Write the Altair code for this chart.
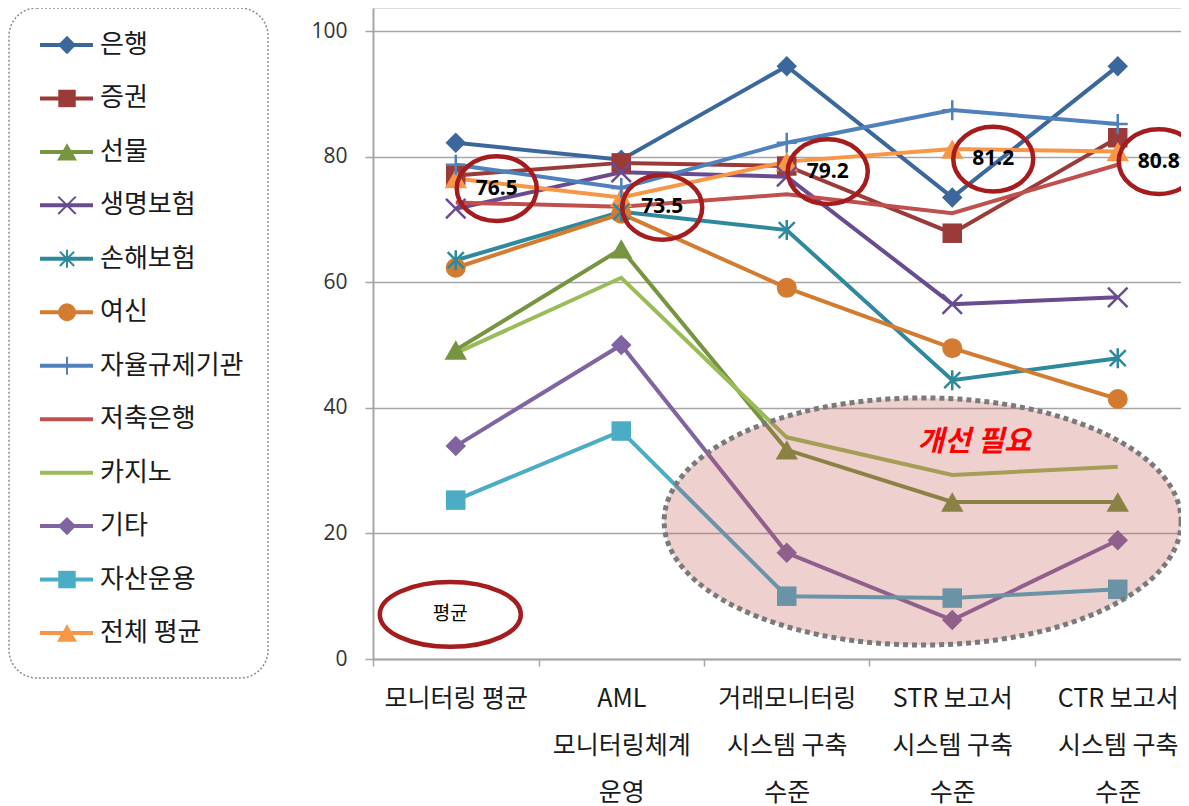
import altair as alt
import pandas as pd

# ---------------- data ----------------
categories = ["모니터링 평균", "AML\n모니터링체계\n운영", "거래모니터링\n시스템 구축\n수준",
              "STR 보고서\n시스템 구축\n수준", "CTR 보고서\n시스템 구축\n수준"]
series_names = ["은행", "증권", "선물", "생명보험", "손해보험", "여신", "자율규제기관",
                "저축은행", "카지노", "기타", "자산운용", "전체 평균"]

bank = [82.2, 79.5, 94.4, 73.5, 94.4]
securities = [77.0, 79.0, 78.5, 67.8, 83.0]
futures = [49.2, 65.3, 33.3, 25.0, 25.0]
life_ins = [71.7, 77.5, 76.8, 56.5, 57.6]
nonlife_ins = [63.5, 71.2, 68.3, 44.4, 47.9]
credit = [62.3, 70.9, 59.1, 49.5, 41.4]
self_reg = [78.7, 75.0, 82.2, 87.4, 85.2]
savings_bank = [72.7, 72.0, 74.0, 71.0, 78.7]
casino = [48.7, 60.7, 35.3, 29.3, 30.6]
others = [33.9, 50.0, 16.9, 6.2, 18.9]
asset_mgmt = [25.3, 36.3, 10.0, 9.7, 11.1]
overall_avg = [76.5, 73.5, 79.2, 81.2, 80.8]

values_by_series = [bank, securities, futures, life_ins, nonlife_ins, credit, self_reg,
                    savings_bank, casino, others, asset_mgmt, overall_avg]

colors = ["#3b679c", "#9b3b39", "#779541", "#684c8f", "#2f899d", "#d27b31", "#4f81bd",
          "#c0504d", "#9bbb59", "#8064a2", "#4bacc6", "#f79646"]
markers = ["diamond", "square", "triangle", "x", "asterisk", "circle", "plus",
           "none", "none", "diamond", "square", "triangle"]

rows = []
for si, (name, vals, mk) in enumerate(zip(series_names, values_by_series, markers)):
    for ci, v in enumerate(vals):
        rows.append({"series": name, "ci": ci, "value": v, "marker": mk, "order": si})
df = pd.DataFrame(rows)

legend_df = pd.DataFrame({"series": series_names, "marker": markers,
                          "li": list(range(len(series_names)))})


# ---------------- helpers ----------------
def ellipse_path(b):
    k = 0.5523
    return (f"M1,0C1,{b*k:.4f} {k},{b:.4f} 0,{b:.4f}C{-k},{b:.4f} -1,{b*k:.4f} -1,0"
            f"C-1,{-b*k:.4f} {-k},{-b:.4f} 0,{-b:.4f}C{k},{-b:.4f} 1,{-b*k:.4f} 1,0Z")


X_PATH = "M-1,-1L1,1M-1,1L1,-1"
AST_PATH = "M-0.8,-0.8L0.8,0.8M-0.8,0.8L0.8,-0.8M0,-1L0,1"
PLUS_PATH = "M-1,0L1,0M0,-1L0,1"
shape_map = {
    "diamond": ("diamond", 420, True),
    "square": ("square", 380, True),
    "triangle": ("triangle-up", 500, True),
    "circle": ("circle", 400, True),
    "x": (X_PATH, 380, False),
    "asterisk": (AST_PATH, 400, False),
    "plus": (PLUS_PATH, 400, False),
}

W, H = 808, 651
STEP = 165.5
X_DOMAIN = [-0.5, -0.5 + W / STEP]
Y_DOMAIN = [0, H / 6.28]

color_scale = alt.Scale(domain=series_names, range=colors)
KFONT = "Noto Sans CJK KR"

label_expr = ("split([" + ",".join("'" + c.replace("\n", "|") + "'" for c in categories)
              + "][round(datum.value + 0.5)], '|')")

x_enc = alt.X("ci:Q", scale=alt.Scale(domain=X_DOMAIN, nice=False, zero=False),
              axis=alt.Axis(values=[-0.5, 0.5, 1.5, 2.5, 3.5], labelExpr=label_expr,
                            labelOffset=STEP / 2, labelFlush=False, labelOverlap=False,
                            labelAlign="center", labelBaseline="top", labelFont=KFONT,
                            labelFontSize=25, labelColor="#1a1a1a", labelLineHeight=47,
                            labelPadding=20, tickSize=7, tickColor="#a6a6a6", tickWidth=1.5,
                            domainColor="#a6a6a6", domainWidth=2, grid=False, title=None))
y_enc = alt.Y("value:Q", scale=alt.Scale(domain=Y_DOMAIN, nice=False, zero=True),
              axis=alt.Axis(values=[0, 20, 40, 60, 80, 100], labelFlush=False,
                            labelFont="Open Sans", labelFontSize=21, labelColor="#333333",
                            labelPadding=18, tickSize=8, tickColor="#a6a6a6", tickWidth=1.5,
                            domainColor="#a6a6a6", domainWidth=2, grid=True,
                            gridColor="#a6a6a6", gridWidth=1.5, title=None))

base = alt.Chart(df)
lines = base.mark_line(strokeWidth=4).encode(
    x=x_enc, y=y_enc,
    color=alt.Color("series:N", scale=color_scale, legend=None),
    order="ci:Q")

point_layers = []
for mk, (shp, sz, filled) in shape_map.items():
    kw = dict(shape=shp, size=sz, filled=filled, opacity=1)
    if not filled:
        kw["strokeWidth"] = 2.5
    point_layers.append(
        base.mark_point(**kw).encode(
            x="ci:Q", y="value:Q",
            color=alt.Color("series:N", scale=color_scale, legend=None))
        .transform_filter(alt.datum.marker == mk))

# annotations
big_ell_df = pd.DataFrame({"ci": [2.821], "value": [21.9]})
big_ellipse = alt.Chart(big_ell_df).mark_point(
    shape=ellipse_path(0.478), size=517 ** 2, filled=True, fill="#c0504d",
    fillOpacity=0.27, stroke="#7a7a7a", strokeOpacity=1, strokeWidth=5,
    strokeDash=[5, 4], opacity=1).encode(x="ci:Q", y="value:Q")

avg_df = df[df["series"] == "전체 평균"]
red_circles = alt.Chart(avg_df).mark_point(
    shape=ellipse_path(0.81), size=80 ** 2, filled=False, stroke="#a51c1f",
    strokeWidth=4.5, opacity=1, xOffset=41, yOffset=10).encode(x="ci:Q", y="value:Q")
value_text = alt.Chart(avg_df).mark_text(
    dx=41, dy=10, font="Open Sans", fontSize=21, fontWeight="bold", color="black"
).encode(x="ci:Q", y="value:Q", text=alt.Text("value:Q", format=".1f"))

avg_note_df = pd.DataFrame({"ci": [-0.033], "value": [7.1], "t": ["평균"]})
avg_ellipse = alt.Chart(avg_note_df).mark_point(
    shape=ellipse_path(0.46), size=141 ** 2, filled=False, stroke="#a51c1f",
    strokeWidth=4.5, opacity=1).encode(x="ci:Q", y="value:Q")
avg_text = alt.Chart(avg_note_df).mark_text(
    font=KFONT, fontSize=19, color="black").encode(x="ci:Q", y="value:Q", text="t:N")

need_df = pd.DataFrame({"ci": [3.133], "value": [34.55], "t": ["개선 필요"]})
need_text = alt.Chart(need_df).mark_text(
    font=KFONT, fontSize=29, fontWeight="bold", fontStyle="italic", color="#ff0000"
).encode(x="ci:Q", y="value:Q", text="t:N")

main = alt.layer(lines, *point_layers, big_ellipse, red_circles, value_text,
                 avg_ellipse, avg_text, need_text)

# ---------------- legend ----------------
ly = alt.Y("li:Q", scale=alt.Scale(domain=[0, 11], range=[37, 625], nice=False, zero=False),
           axis=None)
box = alt.Chart(pd.DataFrame({"a": [0]})).mark_rect(
    cornerRadius=28, fill="white", fillOpacity=0, stroke="#8c8c8c", strokeWidth=1.5,
    strokeDash=[2, 2]).encode(x=alt.value(-364), x2=alt.value(-105),
                              y=alt.value(0), y2=alt.value(670))
lbase = alt.Chart(legend_df)
leg_rules = lbase.mark_rule(strokeWidth=4).encode(
    x=alt.value(-333), x2=alt.value(-280), y=ly,
    color=alt.Color("series:N", scale=color_scale, legend=None))
leg_pts = []
for mk, (shp, sz, filled) in shape_map.items():
    kw = dict(shape=shp, size=sz * 0.8, filled=filled, opacity=1)
    if not filled:
        kw["strokeWidth"] = 2
    leg_pts.append(lbase.mark_point(**kw).encode(
        x=alt.value(-306), y=ly,
        color=alt.Color("series:N", scale=color_scale, legend=None))
        .transform_filter(alt.datum.marker == mk))
leg_text = lbase.mark_text(align="left", baseline="middle", font=KFONT, fontSize=26,
                           color="#1a1a1a").encode(x=alt.value(-273), y=ly, text="series:N")
legend = alt.layer(box, leg_rules, *leg_pts, leg_text)

chart = alt.layer(main, legend).resolve_scale(y="independent").properties(
    width=W, height=H,
    padding={"left": 365, "top": 0, "right": 0, "bottom": 147},
    autosize=alt.AutoSizeParams(type="none"),
).configure_view(stroke=None).configure(background="white")

chart.save("out.html", embed_options={"renderer": "svg", "actions": False})
